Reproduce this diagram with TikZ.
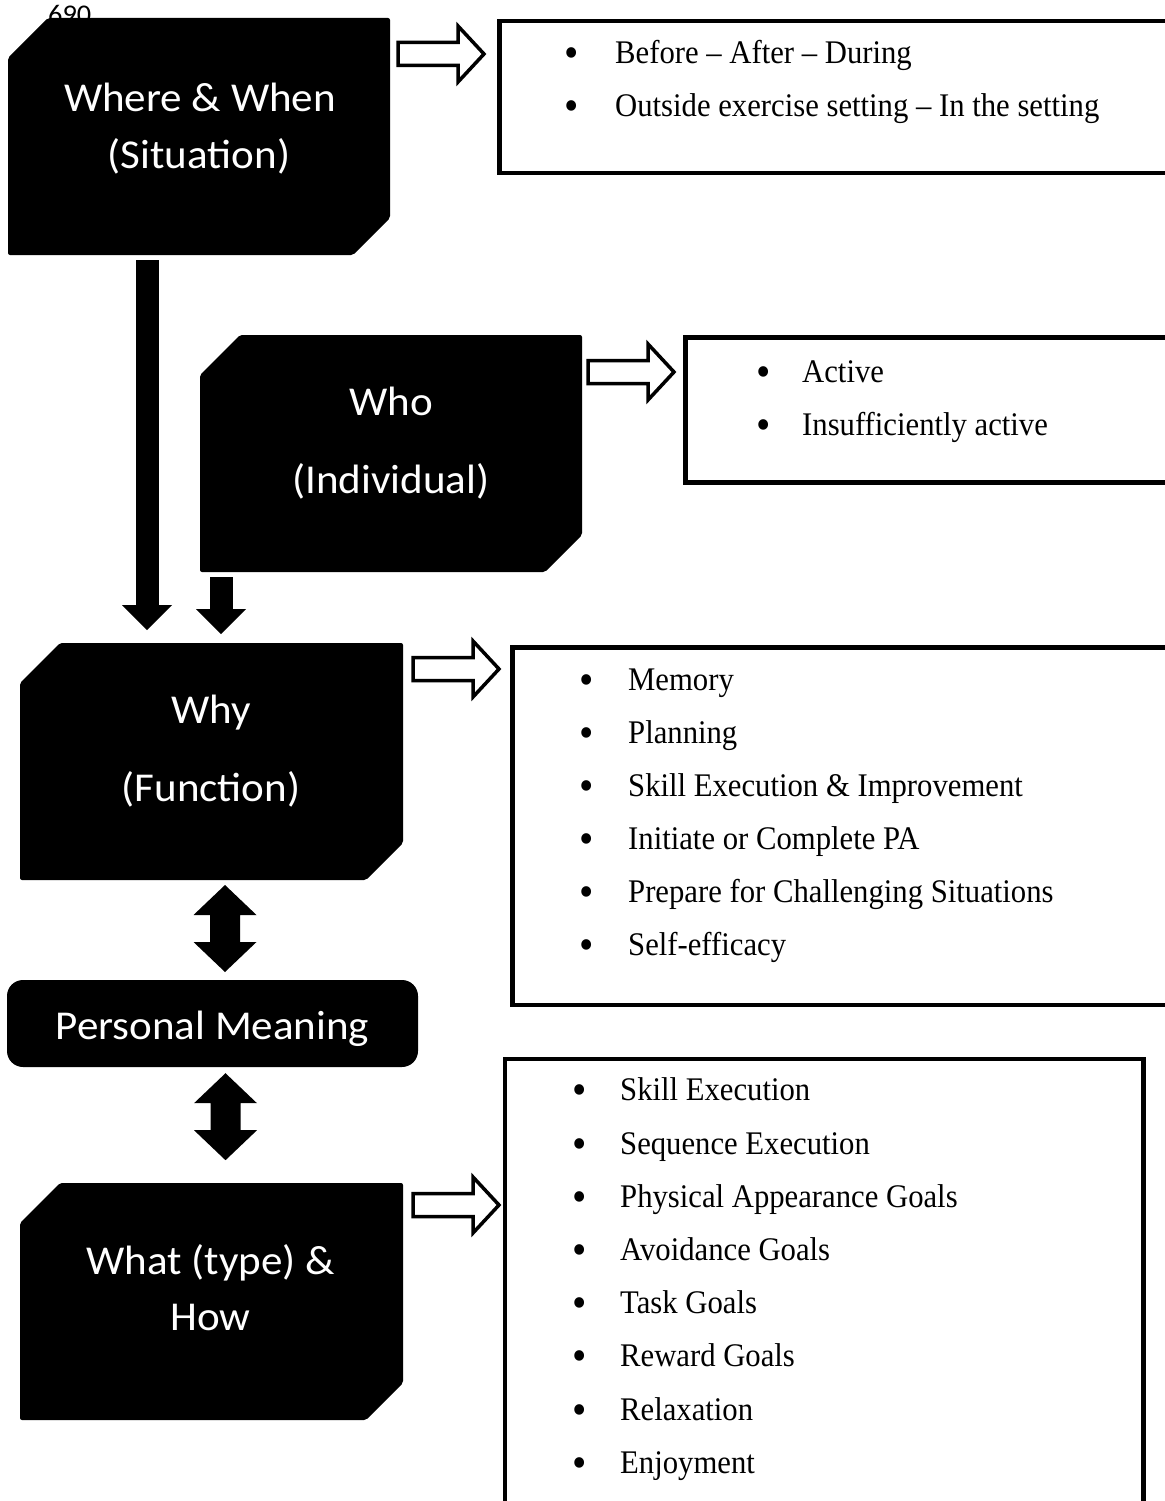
\documentclass[tikz,border=0pt]{standalone}
\usepackage{fontspec}
\setmainfont{Liberation Serif}[FakeStretch=0.93]
\newfontfamily\boxfont{Carlito}[FakeStretch=1.05]
\usetikzlibrary{arrows.meta}
\newcommand\chamferfill[1]{\fill[rounded corners=2pt] ([yshift=-40pt]#1.north west) -- ([xshift=40pt]#1.north west) -- (#1.north east) -- ([yshift=37pt]#1.south east) -- ([xshift=-37pt]#1.south east) -- (#1.south west) -- cycle;}
\newcommand\bitem[2]{\makebox[#1][l]{\raisebox{-4pt}{\fontsize{44}{44}\selectfont\textbullet}}#2}
\tikzset{
  boxarea/.style={inner sep=0pt, outer sep=0pt, draw=none, minimum width=383pt, minimum height=237pt},
  listbox/.style={draw=black, line width=4.5pt, anchor=north west, inner sep=0pt},
  itemtxt/.style={anchor=base west, inner sep=0pt, font=\fontsize{33}{38}\selectfont},
  boxtxt/.style={anchor=base, inner sep=0pt, text=white, font=\boxfont\fontsize{41}{48}\selectfont},
  solidarr/.style={line width=23pt, -{Triangle[length=25pt,width=50pt,line width=0pt]}},
  pics/dblarr/.style={code={
    \fill (0,0) -- (31.5,30) -- (15,30) -- (15,#1-30) -- (31.5,#1-30) -- (0,#1)
      -- (-31.5,#1-30) -- (-15,#1-30) -- (-15,30) -- (-31.5,30) -- cycle;}},
  pics/hollowarr/.style={code={
    \draw[line width=3.5pt, fill=white, line join=miter]
      (0,-11.5) -- (60,-11.5) -- (60,-28) -- (86,0) -- (60,28) -- (60,11.5) -- (0,11.5) -- cycle;}}
}
\begin{document}
\begin{tikzpicture}[x=1pt,y=-1pt]
\useasboundingbox[fill=white] (0,0) rectangle (1164,1501);

% page number
\node[anchor=base west, inner sep=0pt, font=\boxfont\fontsize{27}{30}\selectfont] (pagenum) at (48,24) {690};

% black chamfered boxes
\node[boxarea, minimum width=382pt] (where) at (199,136.5) {};
\node[boxarea, minimum width=382pt] (who) at (391,453.5) {};
\node[boxarea] (why) at (211.5,761.5) {};
\node[boxarea] (what) at (211.5,1301.5) {};
\chamferfill{where}
\chamferfill{who}
\chamferfill{why}
\chamferfill{what}

\node[boxtxt] (whereA) at (200,112) {Where \& When};
\node[boxtxt] (whereB) at (199,168) {(Situation)};
\node[boxtxt] (whoA) at (391,415) {Who};
\node[boxtxt] (whoB) at (391,493) {(Individual)};
\node[boxtxt] (whyA) at (211,723) {Why};
\node[boxtxt] (whyB) at (211,801) {(Function)};
\node[boxtxt] (whatA) at (210.5,1274) {What (type) \&};
\node[boxtxt] (whatB) at (210.5,1330) {How};

\node[fill=black, rounded corners=16pt, minimum width=411pt, minimum height=87pt, inner sep=0pt] (pm) at (212.5,1023.5) {};
\node[boxtxt] (pmtxt) at (212.5,1039) {Personal Meaning};

% solid arrows
\draw[solidarr] ([xshift=-52pt,yshift=-5pt]where.south) -- ([xshift=-64.5pt,yshift=13pt]why.north);
\draw[solidarr] ([xshift=-170pt,yshift=-5pt]who.south) -- ([xshift=9.5pt,yshift=9pt]why.north);
\pic at ([xshift=13.5pt,yshift=-5pt]why.south) {dblarr=87};
\pic at ([xshift=13pt,yshift=-6pt]pm.south) {dblarr=87};

% list boxes
\node[listbox, minimum width=678pt, minimum height=151.5pt] (l1) at (497,19) {};
\node[listbox, minimum width=492pt, minimum height=145pt] (l2) at (683,335) {};
\node[listbox, minimum width=665pt, minimum height=357.5pt] (l3) at (510,645) {};
\node[listbox, minimum width=638.5pt, minimum height=460pt] (l4) at (502.5,1056.5) {};

% hollow arrows
\pic at ([xshift=8pt,yshift=-36pt]where.north east) {hollowarr};
\pic at ([xshift=6pt,yshift=-37pt]who.north east) {hollowarr};
\pic at ([xshift=10pt,yshift=-26pt]why.north east) {hollowarr};
\pic at ([xshift=10pt,yshift=-22pt]what.north east) {hollowarr};

% list items
\node[itemtxt] (i11) at (564,64) {\bitem{51pt}{Before – After – During}};
\node[itemtxt] (i12) at (564,117) {\bitem{51pt}{Outside exercise setting – In the setting}};

\node[itemtxt] (i21) at (756,382) {\bitem{46pt}{Active}};
\node[itemtxt] (i22) at (756,435) {\bitem{46pt}{Insufficiently active}};

\node[itemtxt] (i31) at (579,690) {\bitem{49pt}{Memory}};
\node[itemtxt] (i32) at (579,743) {\bitem{49pt}{Planning}};
\node[itemtxt] (i33) at (579,796) {\bitem{49pt}{Skill Execution \& Improvement}};
\node[itemtxt] (i34) at (579,849) {\bitem{49pt}{Initiate or Complete PA}};
\node[itemtxt] (i35) at (579,902) {\bitem{49pt}{Prepare for Challenging Situations}};
\node[itemtxt] (i36) at (579,955) {\bitem{49pt}{Self-efficacy}};

\node[itemtxt] (i41) at (572,1100) {\bitem{48pt}{Skill Execution}};
\node[itemtxt] (i42) at (572,1154) {\bitem{48pt}{Sequence Execution}};
\node[itemtxt] (i43) at (572,1207) {\bitem{48pt}{Physical Appearance Goals}};
\node[itemtxt] (i44) at (572,1260) {\bitem{48pt}{Avoidance Goals}};
\node[itemtxt] (i45) at (572,1313) {\bitem{48pt}{Task Goals}};
\node[itemtxt] (i46) at (572,1366) {\bitem{48pt}{Reward Goals}};
\node[itemtxt] (i47) at (572,1420) {\bitem{48pt}{Relaxation}};
\node[itemtxt] (i48) at (572,1473) {\bitem{48pt}{Enjoyment}};
\end{tikzpicture}
\end{document}
